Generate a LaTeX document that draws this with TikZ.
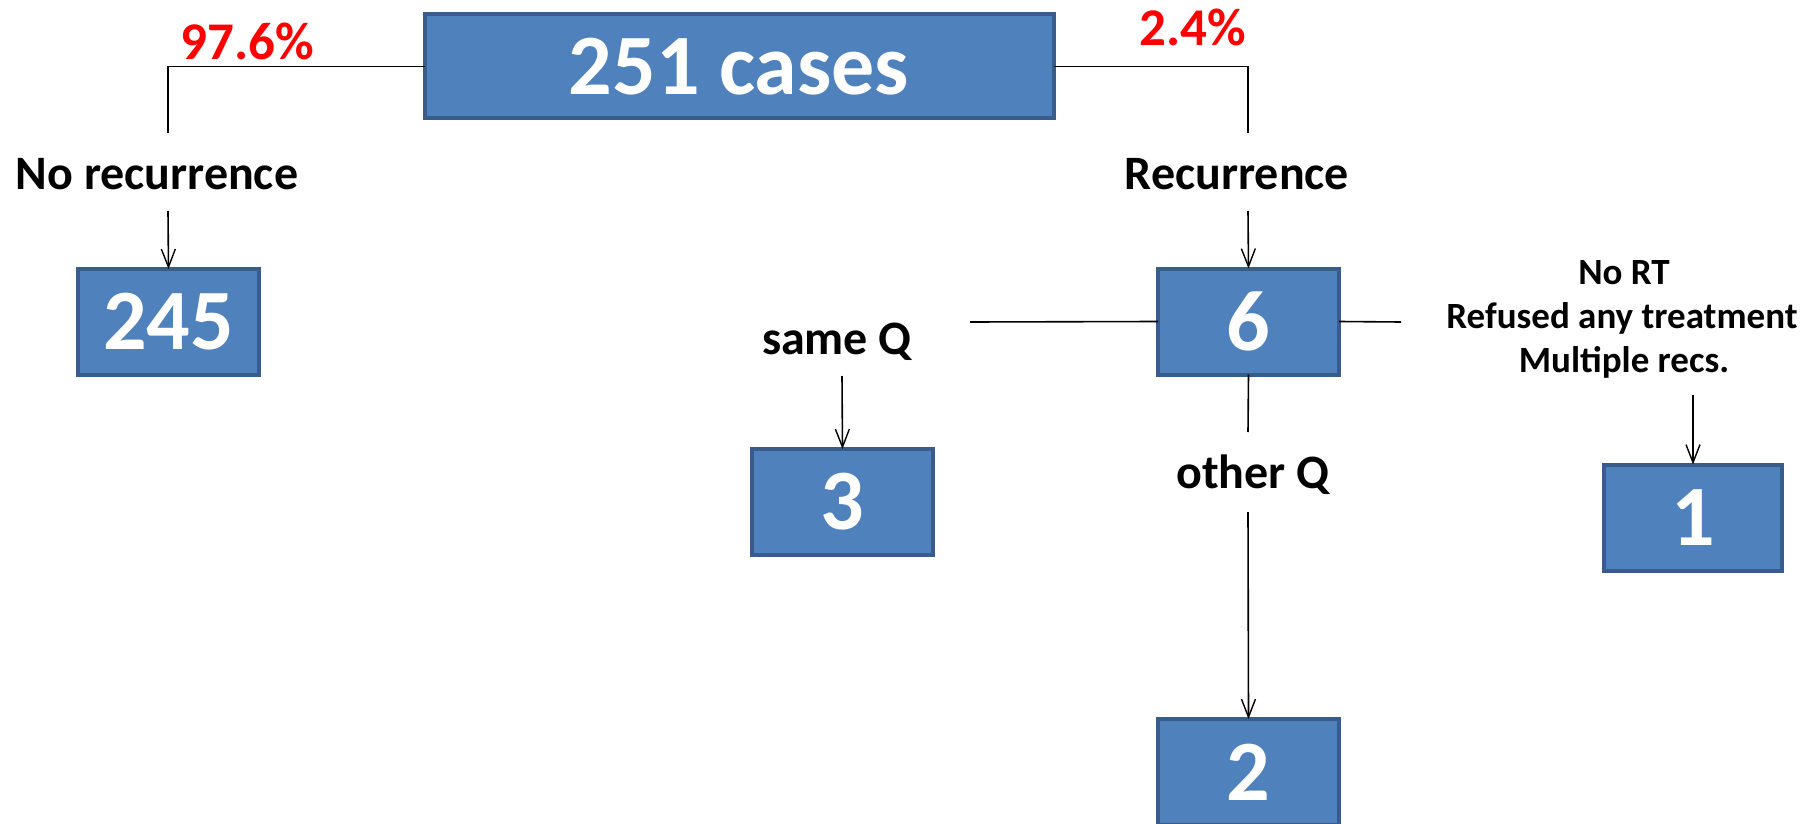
\documentclass[tikz,border=0pt]{standalone}
\usepackage{fontspec}
\setmainfont{Carlito}
\usetikzlibrary{arrows.meta}
\definecolor{boxfill}{HTML}{4F81BD}
\definecolor{boxedge}{HTML}{385D8A}
\tikzset{
  numbox/.style={draw=boxedge, fill=boxfill, line width=4, text=white,
    font=\fontsize{86}{86}\selectfont\bfseries, minimum width=181, minimum height=106,
    inner sep=0, outer sep=0},
  lbl/.style={font=\fontsize{48}{48}\selectfont\bfseries, inner sep=0},
  smalllbl/.style={font=\fontsize{37}{42}\selectfont\bfseries, inner sep=0, align=center},
  pct/.style={font=\fontsize{53}{53}\selectfont\bfseries, text=red, inner sep=0},
  conn/.style={line width=1.6, black},
  arr/.style={conn, -{Straight Barb[length=18,width=14,line width=1.4]}}
}
\begin{document}
\begin{tikzpicture}[x=1pt,y=-1pt]
\useasboundingbox (0,0) rectangle (1816,824);
\clip (0,0) rectangle (1816,824);
% boxes
\node[numbox, minimum width=629, minimum height=104] (top) at (739,66.5) {251 cases};
\node[numbox] (b245) at (168.5,322) {245};
\node[numbox] (b6) at (1248.5,321.5) {6};
\node[numbox] (b3) at (842.5,502) {3};
\node[numbox, minimum width=178] (b1) at (1693,517.5) {1};
\node[numbox] (b2) at (1248.5,772) {2};
% labels
\node[pct] (p976) at (247,41) {97.6\%};
\node[pct] (p24) at (1193,27) {2.4\%};
\node[lbl] (norec) at (157,174) {No recurrence};
\node[lbl] (rec) at (1237,174) {Recurrence};
\node[lbl] (sameq) at (837,342) {same Q};
\node[lbl] (otherq) at (1253,475) {other Q};
\node[smalllbl] (nort) at (1624,273) {No RT};
\node[smalllbl] (refused) at (1622,318) {Refused any treatment};
\node[smalllbl] (multi) at (1624,362) {Multiple recs.};
% connector end points
\coordinate (lA) at (168,133);
\coordinate (lB) at (168,211);
\coordinate (rA) at (1248,133);
\coordinate (rB) at (1248,211);
\coordinate (sL) at (970,322);
\coordinate (sT) at (842,376);
\coordinate (eR) at (1401,322);
\coordinate (dA) at (1248,432);
\coordinate (dB) at (1248,512);
\coordinate (oT) at (1693,395);
% connectors
\draw[conn] (top.west) -| (lA);
\draw[conn] (top.east) -| (rA);
\draw[arr] (lB) -- (b245.north);
\draw[arr] (rB) -- (b6.north);
\draw[conn] (b6.west) -- (sL);
\draw[conn] (b6.east) -- (eR);
\draw[arr] (sT) -- (b3.north);
\draw[conn] (b6.south) -- (dA);
\draw[arr] (dB) -- (b2.north);
\draw[arr] (oT) -- (b1.north);
\end{tikzpicture}
\end{document}
